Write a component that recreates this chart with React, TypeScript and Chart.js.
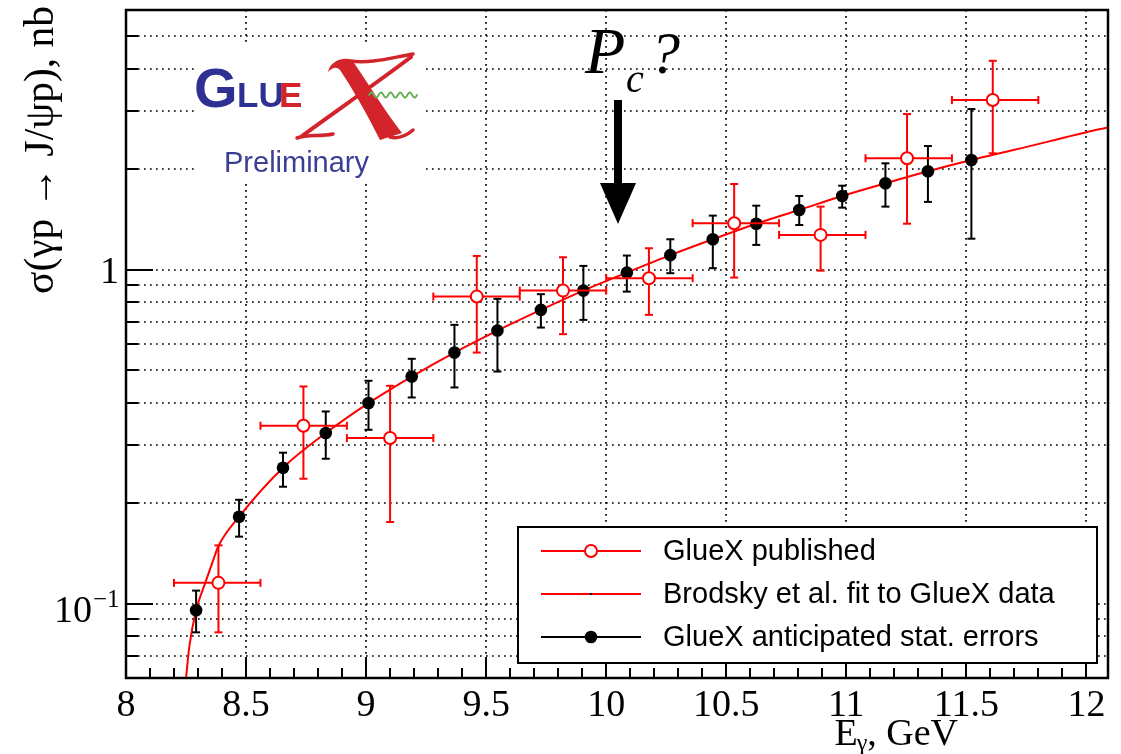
import { useEffect, useRef } from 'react';
import { Chart, registerables } from 'chart.js';

Chart.register(...registerables);

// ---------- data ----------
// Brodsky et al. fit curve (E_gamma in GeV, sigma in nb)
const fitEnergy = [8.241, 8.25, 8.264, 8.292, 8.33, 8.364, 8.385, 8.471, 8.654, 8.832, 9.01, 9.19, 9.368, 9.547, 9.728, 9.905, 10.086, 10.267, 10.444, 10.625, 10.804, 10.983, 11.163, 11.34, 11.521, 11.7, 12.058, 12.09];
const fitSigma = [0.052, 0.06, 0.0747, 0.0957, 0.1156, 0.1357, 0.149, 0.1824, 0.2557, 0.3247, 0.3993, 0.4795, 0.5657, 0.6582, 0.7592, 0.8672, 0.9815, 1.107, 1.235, 1.375, 1.512, 1.665, 1.817, 1.974, 2.133, 2.288, 2.64, 2.67];

// GlueX anticipated stat. errors (black)
const anticipatedEnergy = [8.292, 8.471, 8.654, 8.832, 9.01, 9.19, 9.368, 9.547, 9.728, 9.905, 10.086, 10.267, 10.444, 10.625, 10.804, 10.983, 11.163, 11.34, 11.521];
const anticipatedSigma = [0.0957, 0.1824, 0.2557, 0.3247, 0.3993, 0.4795, 0.5657, 0.6582, 0.7592, 0.8672, 0.9815, 1.107, 1.235, 1.375, 1.512, 1.665, 1.817, 1.974, 2.133];
const anticipatedHigh = [0.1096, 0.205, 0.2836, 0.3768, 0.4656, 0.5418, 0.6846, 0.819, 0.8459, 1.028, 1.104, 1.235, 1.454, 1.557, 1.665, 1.787, 2.085, 2.349, 3.031];
const anticipatedLow = [0.0822, 0.159, 0.2243, 0.272, 0.3321, 0.415, 0.4446, 0.4963, 0.672, 0.7085, 0.8611, 0.9775, 1.012, 1.188, 1.363, 1.536, 1.547, 1.598, 1.24];

// GlueX published (red open circles)
const publishedEnergy = [8.385, 8.739, 9.1, 9.461, 9.82, 10.178, 10.533, 10.893, 11.253, 11.61];
const publishedSigma = [0.1156, 0.3415, 0.3137, 0.832, 0.867, 0.9445, 1.38, 1.273, 2.159, 3.225];
const publishedHigh = [0.1497, 0.4477, 0.4498, 1.101, 1.091, 1.161, 1.808, 1.547, 2.928, 4.227];
const publishedLow = [0.0822, 0.237, 0.1759, 0.5657, 0.642, 0.7335, 0.9484, 0.995, 1.375, 2.234];
const publishedBinLow = [8.2, 8.56, 8.92, 9.28, 9.64, 10.0, 10.36, 10.72, 11.08, 11.44];
const publishedBinHigh = [8.56, 8.92, 9.28, 9.64, 10.0, 10.36, 10.72, 11.08, 11.44, 11.8];

// axes
const X_MIN = 8;
const X_MAX = 12.09;
const Y_MIN = 0.06;
const Y_MAX = 6;
const xMajorTicks = [8, 8.5, 9, 9.5, 10, 10.5, 11, 11.5, 12];
const xTickLabels = ['8', '8.5', '9', '9.5', '10', '10.5', '11', '11.5', '12'];
const xGridValues = [8.5, 9, 9.5, 10, 10.5, 11, 11.5, 12];
const yGridValues = [0.07, 0.08, 0.09, 0.1, 0.2, 0.3, 0.4, 0.5, 0.6, 0.7, 0.8, 0.9, 1, 2, 3, 4, 5];
const yMajorTicks = [0.1, 1];

const LABEL_PUBLISHED = 'GlueX published';
const LABEL_FIT = 'Brodsky et al. fit to GlueX data';
const LABEL_ANTICIPATED = 'GlueX anticipated stat. errors';

const SERIF = '"Liberation Serif", "Times New Roman", "DejaVu Serif", serif';
const SANS = '"Liberation Sans", Arial, Helvetica, sans-serif';
const RED = '#ff0000';

function seg(ctx: CanvasRenderingContext2D, x1: number, y1: number, x2: number, y2: number) {
  ctx.beginPath();
  ctx.moveTo(x1, y1);
  ctx.lineTo(x2, y2);
  ctx.stroke();
}

function drawLogo(ctx: CanvasRenderingContext2D) {
  ctx.save();
  ctx.fillStyle = '#ffffff';
  ctx.fillRect(194, 46, 230, 137);
  const blue = '#2e3192';
  const red = '#d3232b';
  ctx.textAlign = 'left';
  ctx.textBaseline = 'alphabetic';
  ctx.fillStyle = blue;
  ctx.font = `bold 56px ${SANS}`;
  ctx.fillText('G', 194, 107);
  ctx.font = `bold 35px ${SANS}`;
  ctx.fillText('LU', 237, 107);
  ctx.fillStyle = red;
  ctx.fillText('E', 279, 107);

  // calligraphic X
  ctx.strokeStyle = red;
  ctx.fillStyle = red;
  ctx.lineCap = 'round';
  ctx.lineJoin = 'round';
  // thick "\" brush stroke
  ctx.beginPath();
  ctx.moveTo(328, 72);
  ctx.bezierCurveTo(330, 62, 342, 56, 352, 60);
  ctx.bezierCurveTo(366, 80, 384, 110, 402, 133);
  ctx.lineTo(380, 140);
  ctx.bezierCurveTo(366, 112, 352, 88, 340, 70);
  ctx.bezierCurveTo(336, 66, 332, 68, 328, 72);
  ctx.closePath();
  ctx.fill();
  // top wave towards the right
  ctx.lineWidth = 3.5;
  ctx.beginPath();
  ctx.moveTo(350, 61);
  ctx.bezierCurveTo(370, 64, 390, 58, 413, 54);
  ctx.stroke();
  // "/" stroke
  ctx.lineWidth = 4;
  ctx.beginPath();
  ctx.moveTo(411, 57);
  ctx.bezierCurveTo(378, 82, 332, 114, 302, 136);
  ctx.stroke();
  // bottom swashes
  ctx.lineWidth = 3.5;
  ctx.beginPath();
  ctx.moveTo(297, 138);
  ctx.bezierCurveTo(308, 134, 320, 137, 333, 134);
  ctx.stroke();
  ctx.beginPath();
  ctx.moveTo(390, 137);
  ctx.bezierCurveTo(398, 139, 406, 136, 413, 130);
  ctx.stroke();

  // green wave
  ctx.strokeStyle = '#5cae4e';
  ctx.lineWidth = 1.8;
  ctx.beginPath();
  for (let i = 0; i <= 48; i++) {
    const xx = 369 + i;
    const yy = 95 - 2.6 * Math.sin((i / 48) * Math.PI * 2 * 5);
    if (i === 0) ctx.moveTo(xx, yy);
    else ctx.lineTo(xx, yy);
  }
  ctx.stroke();

  ctx.fillStyle = '#3b3e96';
  ctx.font = `29px ${SANS}`;
  ctx.fillText('Preliminary', 224, 172, 168);
  ctx.restore();
}

const rootStyle = {
  id: 'rootStyle',
  beforeDatasetsDraw(chart: any) {
    const { ctx, chartArea: a, scales } = chart;
    const x = scales.x;
    const y = scales.y;
    ctx.save();
    ctx.strokeStyle = '#000';
    ctx.lineWidth = 1.7;
    ctx.setLineDash([1.7, 4.3]);
    for (const v of xGridValues) {
      const px = Math.round(x.getPixelForValue(v));
      seg(ctx, px, a.top, px, a.bottom);
    }
    for (const v of yGridValues) {
      const py = Math.round(y.getPixelForValue(v));
      seg(ctx, a.left, py, a.right, py);
    }
    ctx.restore();
  },
  beforeDatasetDraw(chart: any, args: any) {
    const { ctx, scales } = chart;
    const x = scales.x;
    const y = scales.y;
    const label = chart.data.datasets[args.index].label;
    ctx.save();
    ctx.setLineDash([]);
    ctx.lineWidth = 2;
    if (label === LABEL_ANTICIPATED) {
      ctx.strokeStyle = '#000';
      anticipatedEnergy.forEach((e, i) => {
        const px = x.getPixelForValue(e);
        const hi = y.getPixelForValue(anticipatedHigh[i]);
        const lo = y.getPixelForValue(anticipatedLow[i]);
        seg(ctx, px, hi, px, lo);
        seg(ctx, px - 4, hi, px + 4, hi);
        seg(ctx, px - 4, lo, px + 4, lo);
      });
    } else if (label === LABEL_PUBLISHED) {
      ctx.strokeStyle = RED;
      publishedEnergy.forEach((e, i) => {
        const px = x.getPixelForValue(e);
        const py = y.getPixelForValue(publishedSigma[i]);
        const hi = y.getPixelForValue(publishedHigh[i]);
        const lo = y.getPixelForValue(publishedLow[i]);
        const l = x.getPixelForValue(publishedBinLow[i]);
        const r = x.getPixelForValue(publishedBinHigh[i]);
        seg(ctx, px, hi, px, lo);
        seg(ctx, px - 4, hi, px + 4, hi);
        seg(ctx, px - 4, lo, px + 4, lo);
        seg(ctx, l, py, r, py);
        seg(ctx, l, py - 4, l, py + 4);
        seg(ctx, r, py - 4, r, py + 4);
      });
    }
    ctx.restore();
  },
  afterDatasetsDraw(chart: any) {
    const { ctx, chartArea: a, scales } = chart;
    const x = scales.x;
    const y = scales.y;
    ctx.save();
    ctx.setLineDash([]);

    // logo
    drawLogo(ctx);

    // frame
    ctx.strokeStyle = '#000';
    ctx.lineWidth = 2.5;
    ctx.strokeRect(a.left, a.top, a.right - a.left, a.bottom - a.top);

    // x ticks
    ctx.lineWidth = 2;
    for (let k = 0; k <= Math.round((12 - X_MIN) * 10); k++) {
      const v = X_MIN + k / 10;
      const px = Math.round(x.getPixelForValue(v));
      const major = k % 5 === 0;
      seg(ctx, px, a.bottom, px, a.bottom - (major ? 21 : 10));
    }
    // y ticks
    for (const v of yGridValues) {
      const py = Math.round(y.getPixelForValue(v));
      const major = yMajorTicks.includes(v);
      seg(ctx, a.left, py, a.left + (major ? 27 : 12), py);
    }

    // x tick labels
    ctx.fillStyle = '#000';
    ctx.font = `38px ${SERIF}`;
    ctx.textAlign = 'center';
    ctx.textBaseline = 'alphabetic';
    xMajorTicks.forEach((v, i) => {
      ctx.fillText(xTickLabels[i], x.getPixelForValue(v), 716);
    });

    // y tick labels
    ctx.textAlign = 'right';
    ctx.fillText('1', 119, y.getPixelForValue(1) + 13);
    ctx.textAlign = 'left';
    const yTenth = y.getPixelForValue(0.1);
    ctx.fillText('10', 54, yTenth + 18);
    ctx.font = `25px ${SERIF}`;
    ctx.fillText('\u22121', 93, yTenth + 3);

    // x title: E_gamma, GeV (right aligned)
    ctx.font = `38px ${SERIF}`;
    const rest = ', GeV';
    const wRest = ctx.measureText(rest).width;
    const xRest = 958 - wRest;
    ctx.fillText(rest, xRest, 745);
    ctx.font = `24px ${SERIF}`;
    const wG = ctx.measureText('\u03b3').width;
    const xG = xRest - wG;
    ctx.fillText('\u03b3', xG, 750);
    ctx.font = `38px ${SERIF}`;
    const wE = ctx.measureText('E').width;
    ctx.fillText('E', xG - wE + 1, 745);

    // y title (rotated, right aligned at the top)
    const yTitle = '\u03c3(\u03b3p \u2192 J/\u03c8p), nb';
    ctx.font = `40px ${SERIF}`;
    const wT = ctx.measureText(yTitle).width;
    const fs = Math.min(46, (40 * 288) / wT);
    ctx.font = `${fs}px ${SERIF}`;
    ctx.translate(53, 6);
    ctx.rotate(-Math.PI / 2);
    ctx.textAlign = 'right';
    ctx.fillText(yTitle, 0, 0);
    ctx.setTransform(1, 0, 0, 1, 0, 0);

    // P_c? annotation
    ctx.textAlign = 'left';
    ctx.font = `italic 66px ${SERIF}`;
    ctx.fillText('P', 585, 73);
    ctx.font = `italic 40px ${SERIF}`;
    ctx.fillText('c', 626, 92);
    ctx.font = `italic 60px ${SERIF}`;
    ctx.fillText('?', 650, 73);
    // arrow
    ctx.fillRect(614, 100, 8, 85);
    ctx.beginPath();
    ctx.moveTo(600, 183);
    ctx.lineTo(636, 183);
    ctx.lineTo(618, 224);
    ctx.closePath();
    ctx.fill();

    // legend
    const lx = 518, ly = 527, lw = 579, lh = 136;
    ctx.fillStyle = '#fff';
    ctx.fillRect(lx, ly, lw, lh);
    ctx.strokeStyle = '#000';
    ctx.lineWidth = 2;
    ctx.strokeRect(lx, ly, lw, lh);
    const rows = [551, 594, 637];
    // row 1: published
    ctx.strokeStyle = RED;
    ctx.lineWidth = 2;
    seg(ctx, 541, rows[0], 641, rows[0]);
    ctx.beginPath();
    ctx.arc(591, rows[0], 6, 0, Math.PI * 2);
    ctx.fillStyle = '#fff';
    ctx.fill();
    ctx.stroke();
    // row 2: fit
    seg(ctx, 541, rows[1], 641, rows[1]);
    ctx.fillStyle = '#000';
    ctx.fillRect(590, rows[1] - 1, 2, 2);
    // row 3: anticipated
    ctx.strokeStyle = '#000';
    seg(ctx, 541, rows[2], 641, rows[2]);
    ctx.beginPath();
    ctx.arc(591, rows[2], 6.3, 0, Math.PI * 2);
    ctx.fill();
    // texts
    ctx.fillStyle = '#000';
    ctx.font = `29px ${SANS}`;
    ctx.textAlign = 'left';
    ctx.textBaseline = 'middle';
    ctx.fillText(LABEL_PUBLISHED, 663, rows[0] + 1);
    ctx.fillText(LABEL_FIT, 663, rows[1] + 1);
    ctx.fillText(LABEL_ANTICIPATED, 663, rows[2] + 1);

    ctx.restore();
  },
};

export default function App() {
  const canvasRef = useRef<HTMLCanvasElement | null>(null);

  useEffect(() => {
    const canvas = canvasRef.current;
    if (!canvas) return;
    const chart = new Chart(canvas, {
      type: 'scatter',
      data: {
        datasets: [
          {
            label: LABEL_PUBLISHED,
            data: publishedEnergy.map((e, i) => ({ x: e, y: publishedSigma[i] })),
            pointRadius: 6,
            pointBorderWidth: 2,
            pointBackgroundColor: '#ffffff',
            pointBorderColor: RED,
            showLine: false,
            order: 1,
          },
          {
            label: LABEL_ANTICIPATED,
            data: anticipatedEnergy.map((e, i) => ({ x: e, y: anticipatedSigma[i] })),
            pointRadius: 6.3,
            pointBorderWidth: 0,
            pointBackgroundColor: '#000000',
            pointBorderColor: '#000000',
            showLine: false,
            order: 2,
          },
          {
            type: 'line',
            label: LABEL_FIT,
            data: fitEnergy.map((e, i) => ({ x: e, y: fitSigma[i] })),
            borderColor: RED,
            borderWidth: 2,
            pointRadius: 0,
            fill: false,
            cubicInterpolationMode: 'monotone',
            order: 3,
          } as any,
        ],
      },
      options: {
        responsive: false,
        animation: false,
        events: [],
        layout: { padding: { left: 0, top: 10, right: 13, bottom: 0 } },
        scales: {
          x: {
            type: 'linear',
            min: X_MIN,
            max: X_MAX,
            grid: { display: false },
            border: { display: false },
            ticks: { display: false },
            afterFit: (s: any) => {
              s.height = 76;
            },
          },
          y: {
            type: 'logarithmic',
            min: Y_MIN,
            max: Y_MAX,
            grid: { display: false },
            border: { display: false },
            ticks: { display: false },
            afterFit: (s: any) => {
              s.width = 126;
            },
          },
        },
        plugins: {
          legend: { display: false },
          tooltip: { enabled: false },
        },
      },
      plugins: [rootStyle],
    });
    return () => chart.destroy();
  }, []);

  return (
    <div style={{ position: 'absolute', left: 0, top: 0, width: 1121, height: 754, background: '#ffffff' }}>
      <canvas ref={canvasRef} width={1121} height={754} style={{ display: 'block' }} />
    </div>
  );
}
